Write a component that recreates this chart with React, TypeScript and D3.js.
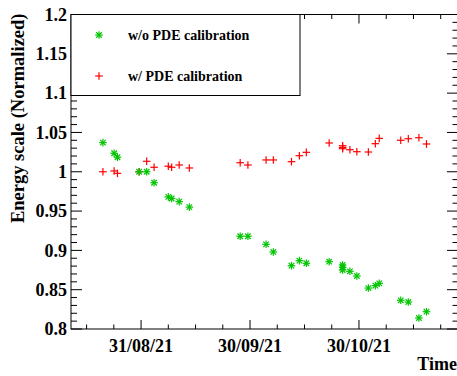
import React from 'react';
import * as d3 from 'd3';

const W = 457;
const H = 376;

const xDomain = ['2021-08-11T17:00:00Z', '2021-11-26T03:00:00Z'];
const yDomain = [0.8, 1.2];
const yMajorTicks = [0.8, 0.85, 0.9, 0.95, 1, 1.05, 1.1, 1.15, 1.2];
const xMajorTicks = ['2021-08-31T00:00:00Z', '2021-09-30T00:00:00Z', '2021-10-30T00:00:00Z'];

const legendLabels = ['w/o PDE calibration', 'w/ PDE calibration'];

const noCalibDates = [
  '2021-08-20T12', '2021-08-23T14', '2021-08-24T12', '2021-08-30T11', '2021-09-01T13',
  '2021-09-03T14', '2021-09-07T12', '2021-09-08T10', '2021-09-10T12', '2021-09-13T07',
  '2021-09-27T07', '2021-09-29T10', '2021-10-04T10', '2021-10-06T10', '2021-10-11T10',
  '2021-10-13T14', '2021-10-15T12', '2021-10-21T19', '2021-10-25T12', '2021-10-25T12',
  '2021-10-25T12', '2021-10-27T12', '2021-10-29T10', '2021-11-01T14', '2021-11-03T12',
  '2021-11-04T14', '2021-11-10T12', '2021-11-12T14', '2021-11-15T12', '2021-11-17T14',
];
const noCalibValues = [
  1.037, 1.0235, 1.0184, 1.0, 1.0,
  0.986, 0.968, 0.966, 0.962, 0.955,
  0.918, 0.918, 0.9077, 0.898, 0.8805,
  0.8869, 0.8836, 0.8856, 0.8814, 0.8785,
  0.875, 0.8734, 0.8674, 0.8521, 0.8551,
  0.8581, 0.8365, 0.8343, 0.814, 0.822,
];

const calibDates = noCalibDates;
const calibValues = [
  1.0, 1.001, 0.998, 1.0, 1.0133,
  1.0057, 1.007, 1.0057, 1.0086, 1.0048,
  1.0115, 1.0086, 1.015, 1.015, 1.0128,
  1.0204, 1.0247, 1.0366, 1.0331, 1.031,
  1.0293, 1.028, 1.0255, 1.0251, 1.0357,
  1.0425, 1.04, 1.042, 1.0433, 1.0353,
];

const GREEN = '#00c400';
const RED = '#ff0000';
const FONT = '"Liberation Serif", "Times New Roman", serif';

const M = { left: 71, right: 457.5, top: 14.5, bottom: 329 };

function parseDate(s: string): Date {
  return new Date(s.length <= 13 ? s + ':00:00Z' : s);
}

function Star({ x, y, color }: { x: number; y: number; color: string }) {
  const r = 3.8;
  const d = r * 0.72;
  return (
    <g stroke={color} strokeWidth={1.2}>
      <line x1={x - r} y1={y} x2={x + r} y2={y} />
      <line x1={x} y1={y - r} x2={x} y2={y + r} />
      <line x1={x - d} y1={y - d} x2={x + d} y2={y + d} />
      <line x1={x - d} y1={y + d} x2={x + d} y2={y - d} />
    </g>
  );
}

function Plus({ x, y, color }: { x: number; y: number; color: string }) {
  const r = 3.8;
  return (
    <g stroke={color} strokeWidth={1.2}>
      <line x1={x - r} y1={y} x2={x + r} y2={y} />
      <line x1={x} y1={y - r} x2={x} y2={y + r} />
    </g>
  );
}

export default function App() {
  const x = d3
    .scaleUtc()
    .domain(xDomain.map((s) => new Date(s)))
    .range([M.left, M.right]);
  const y = d3.scaleLinear().domain(yDomain).range([M.bottom, M.top]);

  const fmt = d3.utcFormat('%d/%m/%y');
  const xMajor = xMajorTicks.map((s) => new Date(s));
  const base = xMajor[0];
  const xMinor: Date[] = [];
  for (let k = -10; k <= 20; k++) {
    const d = d3.utcHour.offset(base, 180 * k);
    const px = x(d);
    if (px > M.left + 0.5 && px < M.right - 1.5) xMinor.push(d);
  }
  const yMinor = y.ticks(40).filter((v) => !yMajorTicks.some((t) => Math.abs(t - v) < 1e-6));

  const green = noCalibDates.map((d, i) => ({ x: x(parseDate(d)), y: y(noCalibValues[i]) }));
  const red = calibDates.map((d, i) => ({ x: x(parseDate(d)), y: y(calibValues[i]) }));

  const isMajorX = (d: Date) => xMajor.some((m) => Math.abs(m.getTime() - d.getTime()) < 1000);

  return (
    <svg
      width={W}
      height={H}
      style={{ position: 'absolute', left: 0, top: 0, background: '#fff' }}
      fontFamily={FONT}
    >
      <rect x={0} y={0} width={W} height={H} fill="#fff" />
      {/* frame */}
      <rect
        x={M.left}
        y={M.top}
        width={M.right - M.left}
        height={M.bottom - M.top}
        fill="none"
        stroke="#000"
        strokeWidth={1}
      />
      {/* y ticks left & right */}
      <g stroke="#000" strokeWidth={1}>
        {yMajorTicks.map((t) => (
          <g key={'ym' + t}>
            <line x1={M.left} x2={M.left + 11} y1={y(t)} y2={y(t)} />
            <line x1={M.right} x2={M.right - 10.5} y1={y(t)} y2={y(t)} />
          </g>
        ))}
        {yMinor.map((t) => (
          <g key={'yn' + t}>
            <line x1={M.left} x2={M.left + 6} y1={y(t)} y2={y(t)} />
            <line x1={M.right} x2={M.right - 5} y1={y(t)} y2={y(t)} />
          </g>
        ))}
      </g>
      {/* x ticks bottom & top */}
      <g stroke="#000" strokeWidth={1}>
        {xMinor.map((d, i) => {
          const len = isMajorX(d) ? 9 : 4.5;
          const px = x(d);
          return (
            <g key={'xt' + i}>
              <line x1={px} x2={px} y1={M.bottom} y2={M.bottom - len} />
              <line x1={px} x2={px} y1={M.top} y2={M.top + len} />
            </g>
          );
        })}
      </g>
      {/* y labels */}
      <g fontSize={18} fontWeight="bold" textAnchor="end">
        {yMajorTicks.map((t) => (
          <text key={'yl' + t} x={M.left - 4} y={y(t)} dy="0.35em">
            {d3.format('')(t)}
          </text>
        ))}
      </g>
      {/* x labels */}
      <g fontSize={18} fontWeight="bold" textAnchor="middle">
        {xMajor.map((d, i) => (
          <text key={'xl' + i} x={x(d)} y={M.bottom + 23}>
            {fmt(d)}
          </text>
        ))}
      </g>
      {/* axis titles */}
      <text x={457} y={370} fontSize={18} fontWeight="bold" textAnchor="end">
        Time
      </text>
      <text
        transform={`translate(24, ${M.top - 1}) rotate(-90)`}
        fontSize={18.5}
        fontWeight="bold"
        textAnchor="end"
      >
        Energy scale (Normalized)
      </text>
      {/* data */}
      {red.map((p, i) => (
        <Plus key={'r' + i} x={p.x} y={p.y} color={RED} />
      ))}
      {green.map((p, i) => (
        <Star key={'g' + i} x={p.x} y={p.y} color={GREEN} />
      ))}
      {/* legend */}
      <rect x={M.left} y={M.top} width={229} height={81} fill="#fff" stroke="#000" strokeWidth={1} />
      <Star x={99} y={35} color={GREEN} />
      <Plus x={99} y={76} color={RED} />
      <g fontSize={14} fontWeight="bold">
        <text x={128} y={35} dy="0.35em">
          {legendLabels[0]}
        </text>
        <text x={128} y={76} dy="0.35em">
          {legendLabels[1]}
        </text>
      </g>
    </svg>
  );
}
